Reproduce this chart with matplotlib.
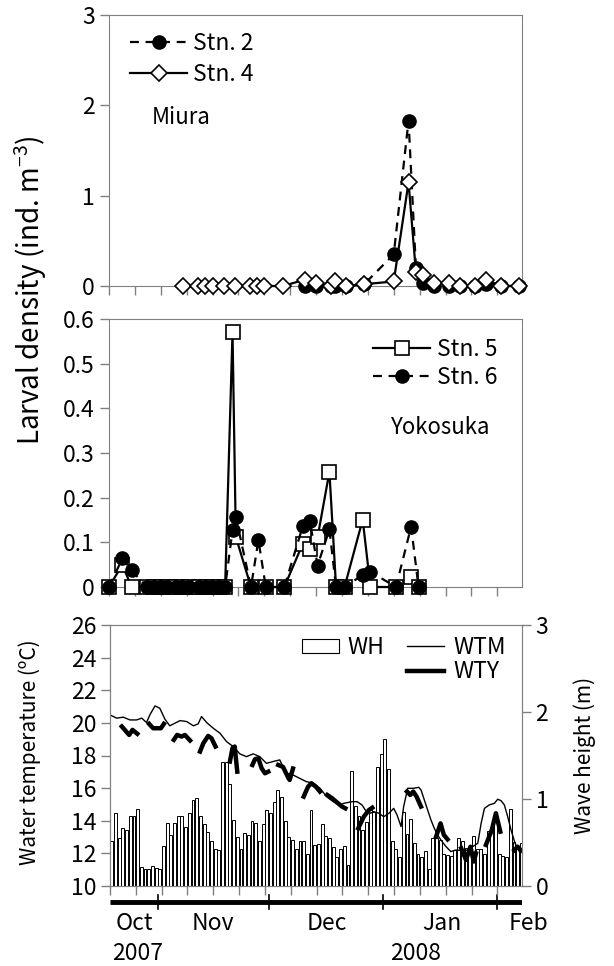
import numpy as np
import matplotlib
matplotlib.use('Agg')
import matplotlib.pyplot as plt
from matplotlib.lines import Line2D
from matplotlib.patches import Patch

plt.rcParams['font.family'] = ['Noto Sans CJK JP', 'DejaVu Sans']
plt.rcParams['font.size'] = 16.5
plt.rcParams['mathtext.default'] = 'regular'

# x axis: days counted from 19 Oct 2007

# Miura (top panel)
stn4_days = [20, 24, 26, 28, 31, 34, 38, 40, 42, 47, 53, 56, 60, 61, 64, 69,
             77, 81, 83, 85, 88, 92, 95, 99, 102, 106, 111]
stn4 = [0, 0, 0, 0, 0, 0, 0, 0, 0, 0, 0.07, 0.03, 0, 0.05, 0, 0.02,
        0.05, 1.15, 0.15, 0.12, 0.03, 0.03, 0, 0, 0.07, 0, 0]
stn2_days = [53, 56, 60, 61, 64, 69, 77, 81, 83, 85, 88, 92, 95, 99, 102, 106, 111]
stn2 = [0, 0, 0, 0, 0, 0.02, 0.35, 1.83, 0.2, 0.03, 0, 0, 0, 0, 0.02, 0, 0]

# Yokosuka (middle panel)
stn5_days = [0, 3.6, 6.1, 10.3, 12.2, 14.1, 15.7, 18.1, 19.8, 21.7, 24.4, 26.3,
             27.9, 29.8, 31.4, 33.4, 34.3, 38.4, 42.4, 47.4, 52.4, 54.3, 56.4,
             59.6, 61.4, 63.7, 68.6, 70.7, 77.6, 81.7, 83.7]
stn5 = [0, 0.05, 0, 0, 0, 0, 0, 0, 0, 0, 0, 0,
        0, 0, 0, 0.57, 0.112, 0, 0, 0, 0.097, 0.084, 0.111,
        0.258, 0, 0, 0.151, 0, 0, 0.023, 0]
stn6_days = [0, 3.6, 6.1, 10.3, 12.2, 14.1, 15.7, 18.1, 19.8, 21.7, 24.4, 26.3,
             27.9, 29.8, 31.4, 33.4, 34.3, 38.4, 40.4, 42.4, 47.4, 52.4, 54.3,
             56.4, 59.6, 61.4, 63.7, 68.6, 70.7, 77.6, 81.7, 83.7]
stn6 = [0, 0.064, 0.037, 0, 0, 0, 0, 0, 0, 0, 0, 0,
        0, 0, 0, 0.127, 0.157, 0, 0.105, 0, 0, 0.136, 0.148,
        0.048, 0.129, 0, 0, 0.027, 0.034, 0, 0.135, 0]

# daily wave height (m)
wh = [0.52, 0.84, 0.55, 0.67, 0.64, 0.80, 0.80, 0.88, 0.22, 0.20, 0.20, 0.23,
      0.21, 0.20, 0.46, 0.72, 0.59, 0.72, 0.80, 0.80, 0.68, 0.84, 0.99, 1.01,
      0.80, 0.71, 0.62, 0.52, 0.43, 0.41, 1.42, 1.42, 1.17, 0.76, 0.56, 0.43,
      0.61, 0.59, 0.75, 0.72, 0.52, 0.71, 0.87, 0.84, 0.96, 1.10, 1.02, 0.75,
      0.56, 0.53, 0.43, 0.52, 0.52, 0.37, 0.87, 0.47, 0.48, 0.71, 0.58, 0.55,
      0.45, 0.33, 0.43, 0.46, 0.24, 1.32, 0.92, 0.80, 0.64, 0.73, 0.87, 0.85,
      1.37, 1.52, 1.69, 1.34, 0.52, 0.43, 0.33, 0.85, 0.60, 0.77, 0.50, 0.37,
      0.33, 0.40, 0.20, 0.55, 0.55, 0.53, 0.37, 0.36, 0.34, 0.41, 0.55, 0.52,
      0.44, 0.37, 0.57, 0.42, 0.43, 0.37, 0.63, 0.65, 0.83, 0.37, 0.35, 0.33,
      0.88, 0.51, 0.43, 0.49]

# water temperature, Miura (WTM)
wtm_days = [0, 1.8, 3.6, 5.4, 7.2, 8.6, 9.9, 10.8, 12.2, 13.5, 14.9, 16.2, 17.6,
            19.0, 20.8, 22.6, 23.9, 24.8, 26.2, 28.0, 29.8, 31.6, 33.4, 35.2,
            37.0, 38.8, 40.6, 42.4, 44.2, 46.0, 47.8, 49.6, 51.4, 53.2, 55.1,
            56.9, 58.7, 60.5, 62.3, 63.4, 65.6, 67.0, 68.3, 69.2, 70.6, 71.5,
            72.9, 74.2, 75.6, 76.9, 77.8, 78.9, 79.6, 80.7, 82.3, 83.7, 84.3,
            85.2, 86.1, 87.0, 87.9, 88.8, 89.7, 91.1, 92.4, 93.8, 95.2, 97.0,
            98.3, 99.7, 100.6, 101.5, 102.8, 104.2, 105.1, 106.0, 106.9, 107.8,
            108.7, 109.8, 111.0]
wtm = [20.49, 20.29, 20.35, 20.18, 20.18, 20.29, 20.02, 20.49, 21.04, 20.90,
       20.22, 19.82, 19.98, 20.14, 20.08, 19.82, 19.94, 20.39, 20.02, 19.67,
       19.37, 18.85, 18.55, 18.10, 17.93, 18.10, 17.93, 17.52, 17.63, 17.73,
       16.91, 16.81, 16.60, 16.40, 16.30, 16.00, 15.48, 15.17, 14.97, 15.07,
       15.17, 15.17, 14.97, 14.66, 14.46, 14.56, 14.46, 14.25, 14.46, 14.76,
       14.36, 13.64, 14.87, 15.99, 15.99, 16.05, 15.89, 15.28, 14.66, 14.05,
       13.54, 13.13, 12.82, 12.41, 12.11, 12.21, 12.17, 12.21, 12.41, 12.62,
       13.84, 14.76, 14.97, 15.07, 15.32, 15.23, 14.97, 14.25, 13.44, 12.62,
       12.11]

# water temperature, Yokosuka (WTY) - nan = no data
wty_days = [3.2, 5.2, 6.1, 7.4, 8.5,
            10.6, 11.7, 13.8, 14.6, 15.5,
            17.3, 18.2, 19.4, 20.3, 21.7, 23.0,
            24.4, 25.3, 26.6, 27.5, 28.6, 30.0,
            32.5, 33.2, 33.8, 34.5, 36.0,
            38.6, 39.3, 40.2, 41.1, 42.0, 42.9, 44.0,
            45.6, 46.9, 48.4, 48.7, 49.6, 51.0,
            52.5, 53.7, 54.6, 55.8, 56.9, 58.0,
            58.9, 60.2, 61.6, 62.9, 63.8, 65.5,
            67.3, 68.8, 70.2, 71.1, 75.0,
            80.5, 81.4, 82.2, 83.1, 84.3, 86.0,
            88.4, 89.6, 90.5, 91.5, 93.0,
            95.2, 96.5, 97.7, 98.6, 99.2, 100.5,
            101.9, 103.5, 104.6, 105.8, 107.5,
            109.6, 110.5, 111.4]
wty = [19.78, 19.26, 19.57, 19.33, np.nan,
       19.94, 19.67, 19.67, 19.94, np.nan,
       18.96, 19.26, 19.16, 19.26, 18.92, np.nan,
       18.24, 18.75, 19.20, 19.06, 18.55, np.nan,
       17.63, 18.45, 18.55, 17.01, np.nan,
       17.42, 17.77, 17.83, 17.22, 16.91, 17.01, np.nan,
       17.42, 17.30, 16.60, 16.50, 17.20, np.nan,
       15.48, 16.09, 16.30, 16.09, 15.79, np.nan,
       15.58, 15.38, 15.11, 14.87, 14.76, np.nan,
       13.54, 14.25, 14.66, 14.80, np.nan,
       15.79, 15.58, 15.79, 15.48, 14.87, np.nan,
       13.03, 13.84, 13.13, 12.86, np.nan,
       12.31, 11.60, 12.41, 11.50, 12.00, np.nan,
       12.52, 13.44, 14.46, 13.33, np.nan,
       12.20, 12.41, 12.17]

month_edges = [13, 43, 74, 105]
month_names = ['Oct', 'Nov', 'Dec', 'Jan', 'Feb']
month_pos = [6.7, 27.9, 58.9, 89.9, 113.5]
year_names = ['2007', '2008']
year_pos = [7.6, 82.9]

xmax = 111.6
weeks = np.arange(0, xmax, 7)
gray = '#808080'

fig = plt.figure(figsize=(6.14, 9.66), dpi=100)
W, H = 614, 966


def box(x0, y0, x1, y1):
    return [x0 / W, 1 - y1 / H, (x1 - x0) / W, (y1 - y0) / H]


def style(ax):
    for s in ax.spines.values():
        s.set_color(gray)
    ax.tick_params(direction='out', length=6.5, color=gray, width=1)
    ax.set_xlim(0, xmax)
    ax.set_xticks(weeks)
    ax.set_xticklabels([])


# top panel
ax1 = fig.add_axes(box(109, 15, 521.7, 286))
style(ax1)
ax1.plot(stn2_days, stn2, 'k--', marker='o', ms=9.5, mfc='black', mec='black',
         lw=1.6, dashes=(4, 3), label='Stn. 2', clip_on=False, zorder=3)
ax1.plot(stn4_days, stn4, 'k-', marker='D', ms=7.8, mfc='white', mec='black',
         mew=1.2, lw=1.6, label='Stn. 4', clip_on=False, zorder=4)
ax1.set_ylim(0, 3)
ax1.set_yticks([0, 1, 2, 3])
ax1.legend(loc='upper left', bbox_to_anchor=(0.051, 0.937), frameon=False,
           borderpad=0, borderaxespad=0, handlelength=2.5,
           labelspacing=0.33, handletextpad=0.25)
ax1.text(0.104, 0.62, 'Miura', transform=ax1.transAxes, va='center',
         fontsize=16)

# middle panel
ax2 = fig.add_axes(box(109, 319, 521.7, 587))
style(ax2)
ax2.plot(stn5_days, stn5, 'k-', marker='s', ms=10.5, mfc='white', mec='black',
         mew=1.2, lw=1.6, label='Stn. 5', clip_on=False, zorder=3)
ax2.plot(stn6_days, stn6, 'k--', marker='o', ms=9.5, mfc='black', mec='black',
         lw=1.6, dashes=(4, 3), label='Stn. 6', clip_on=False, zorder=4)
ax2.set_ylim(0, 0.6)
ax2.set_yticks(np.arange(0, 0.61, 0.1))
ax2.set_yticklabels(['0', '0.1', '0.2', '0.3', '0.4', '0.5', '0.6'])
ax2.legend(loc='upper left', bbox_to_anchor=(0.64, 0.928), frameon=False,
           borderpad=0, borderaxespad=0, handlelength=2.5,
           labelspacing=0.2, handletextpad=0.3)
ax2.text(0.68, 0.597, 'Yokosuka', transform=ax2.transAxes, va='center',
         fontsize=16)

fig.text(0.049, 0.700, 'Larval density (ind. m$^{-3}$)', rotation=90,
         ha='center', va='center', fontsize=20)

# bottom panel
ax3 = fig.add_axes(box(110, 625, 521.7, 886))
axr = ax3.twinx()
style(ax3)
style(axr)
axr.bar(np.arange(len(wh)) + 0.5, wh, width=0.78, color='white',
        edgecolor='black', linewidth=0.7)
axr.set_ylim(0, 3)
axr.set_yticks([0, 1, 2, 3])
ax3.set_zorder(axr.get_zorder() + 1)
ax3.patch.set_visible(False)
ax3.plot(wtm_days, wtm, 'k-', lw=1.0)
ax3.plot(wty_days, wty, 'k-', lw=3.2)
ax3.set_ylim(10, 26)
ax3.set_yticks(range(10, 27, 2))
handles = [Patch(facecolor='white', edgecolor='black', linewidth=0.8),
           Line2D([], [], color='none'),
           Line2D([], [], color='k', lw=1.0),
           Line2D([], [], color='k', lw=3.2)]
ax3.legend(handles, ['WH', '', 'WTM', 'WTY'], ncol=2, loc='upper left',
           bbox_to_anchor=(0.466, 0.958), frameon=False, borderpad=0,
           borderaxespad=0, handlelength=1.6, handleheight=0.55,
           columnspacing=1.0, labelspacing=0.05, handletextpad=0.4)
fig.text(0.049, 0.2215, 'Water temperature (\u00baC)', rotation=90,
         ha='center', va='center', fontsize=15)
fig.text(0.953, 0.218, 'Wave height (m)', rotation=90,
         ha='center', va='center', fontsize=15)

# month bar under the bottom panel
axm = fig.add_axes(box(110, 890, 521.7, 914))
axm.set_xlim(0, xmax)
axm.set_ylim(-1, 1)
axm.axis('off')
axm.plot([0, xmax], [0, 0], 'k-', lw=3.5, solid_capstyle='butt')
for d in month_edges:
    axm.plot([d, d], [-0.6, 0.6], 'k-', lw=1.2)
for name, d in zip(month_names, month_pos):
    fig.text((110 + d * 411.7 / xmax) / W, 1 - 924 / H, name,
             ha='center', va='center')
for name, d in zip(year_names, year_pos):
    fig.text((110 + d * 411.7 / xmax) / W, 1 - 953 / H, name,
             ha='center', va='center')

fig.savefig('out.png', dpi=100)
